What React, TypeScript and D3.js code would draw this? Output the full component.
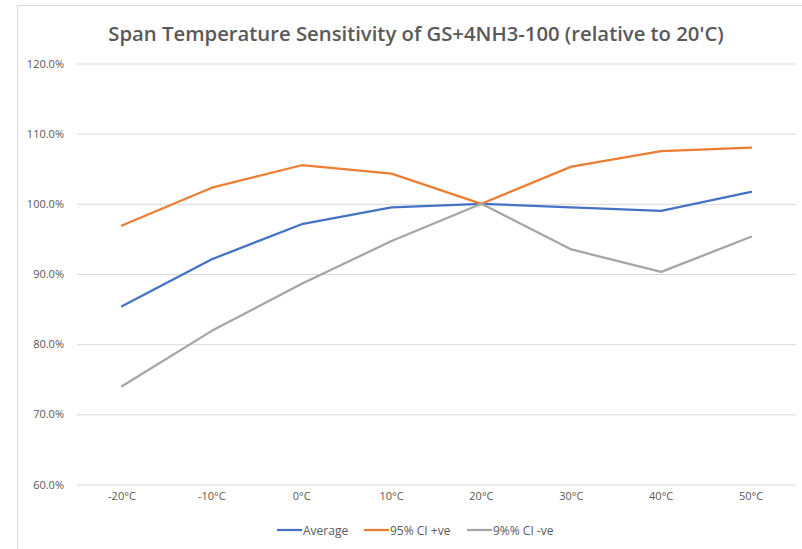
import React, { useEffect, useRef } from 'react';
import * as d3 from 'd3';

const categories = ['-20°C', '-10°C', '0°C', '10°C', '20°C', '30°C', '40°C', '50°C'];
const average = [85.4, 92.1, 97.1, 99.5, 100.0, 99.5, 99.0, 101.7];
const ciPlus = [96.9, 102.3, 105.5, 104.3, 100.0, 105.3, 107.5, 108.0];
const ciMinus = [74.0, 81.9, 88.6, 94.7, 100.0, 93.5, 90.3, 95.3];
const yTicks = [60, 70, 80, 90, 100, 110, 120];

const seriesNames = ['Average', '95% CI +ve', '9%% CI -ve'];
const seriesColors = ['#4472C4', '#ED7D31', '#A5A5A5'];

const App: React.FC = () => {
  const svgRef = useRef<SVGSVGElement>(null);

  useEffect(() => {
    if (!svgRef.current) return;
    const svg = d3.select(svgRef.current);
    svg.selectAll('*').remove();

    const width = 802;
    const height = 549;
    const plot = { left: 77, right: 796, top: 63.5, bottom: 484.5 };
    const font = 'Open Sans, sans-serif';

    // chart frame
    svg.append('rect')
      .attr('x', 17.5).attr('y', 5.5)
      .attr('width', width).attr('height', height)
      .attr('fill', '#fff').attr('stroke', '#d9d9d9');

    const x = d3.scaleBand<string>()
      .domain(categories)
      .range([plot.left, plot.right]);

    const y = d3.scaleLinear()
      .domain([60, 120])
      .range([plot.bottom, plot.top]);

    // grid
    svg.append('g')
      .attr('transform', `translate(${plot.left},0)`)
      .call(d3.axisLeft(y).tickValues(yTicks).tickSize(-(plot.right - plot.left)).tickFormat(() => ''))
      .call(g => g.select('.domain').remove())
      .call(g => g.selectAll('.tick line').attr('stroke', '#d9d9d9').attr('stroke-width', 1));

    // y labels
    svg.append('g')
      .selectAll('text')
      .data(yTicks)
      .enter()
      .append('text')
      .attr('x', 64)
      .attr('y', d => y(d) + 4)
      .attr('text-anchor', 'end')
      .attr('font-family', font)
      .attr('font-size', 11)
      .attr('fill', '#595959')
      .text(d => `${d.toFixed(1)}%`);

    // x labels
    svg.append('g')
      .selectAll('text')
      .data(categories)
      .enter()
      .append('text')
      .attr('x', d => (x(d) as number) + x.bandwidth() / 2)
      .attr('y', 500)
      .attr('text-anchor', 'middle')
      .attr('font-family', font)
      .attr('font-size', 11)
      .attr('fill', '#595959')
      .text(d => d);

    const line = d3.line<number>()
      .x((_, i) => (x(categories[i]) as number) + x.bandwidth() / 2)
      .y(d => y(d));

    [average, ciPlus, ciMinus].forEach((s, i) => {
      svg.append('path')
        .datum(s)
        .attr('fill', 'none')
        .attr('stroke', seriesColors[i])
        .attr('stroke-width', 2.25)
        .attr('stroke-linejoin', 'round')
        .attr('stroke-linecap', 'round')
        .attr('d', line);
    });

    // title
    svg.append('text')
      .attr('x', 416)
      .attr('y', 41)
      .attr('text-anchor', 'middle')
      .attr('font-family', font)
      .attr('font-size', 20.3)
      .attr('font-weight', 600)
      .attr('fill', '#595959')
      .text('Span Temperature Sensitivity of GS+4NH3-100 (relative to 20\'C)');

    // legend
    const legendX = [277, 364, 467];
    const legend = svg.append('g');
    seriesNames.forEach((name, i) => {
      legend.append('line')
        .attr('x1', legendX[i]).attr('x2', legendX[i] + 25)
        .attr('y1', 530).attr('y2', 530)
        .attr('stroke', seriesColors[i])
        .attr('stroke-width', 2.25);
      legend.append('text')
        .attr('x', legendX[i] + 26)
        .attr('y', 534.5)
        .attr('font-family', font)
        .attr('font-size', 12)
        .attr('fill', '#595959')
        .text(name);
    });
  }, []);

  return (
    <svg
      ref={svgRef}
      width={802}
      height={549}
      style={{ position: 'absolute', left: 0, top: 0, background: '#fff' }}
    />
  );
};

export default App;
